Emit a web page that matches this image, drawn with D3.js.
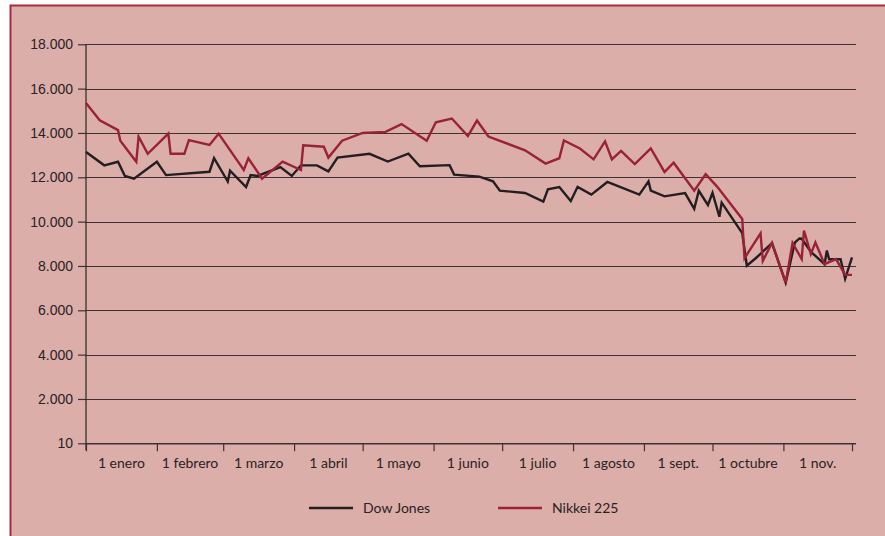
<!DOCTYPE html>
<html lang="es">
<head>
<meta charset="UTF-8">
<title>Dow Jones y Nikkei 225</title>
<script src="https://d3js.org/d3.v7.min.js"></script>
<style>
    body { margin: 0; background: #ffffff; font-family: Lato, "Open Sans", sans-serif; }
    svg { display: block; }
    .tick-label { font-size: 14px; fill: #2a2222; }
</style>
</head>
<body>
<svg id="chart" width="885" height="536"></svg>
<script>
// --- Data ---
const monthLabels = ["1 enero", "1 febrero", "1 marzo", "1 abril", "1 mayo", "1 junio",
                     "1 julio", "1 agosto", "1 sept.", "1 octubre", "1 nov."];
const yTicks = [0, 2000, 4000, 6000, 8000, 10000, 12000, 14000, 16000, 18000];
const yTickLabels = ["10", "2.000", "4.000", "6.000", "8.000", "10.000", "12.000", "14.000", "16.000", "18.000"];
const seriesNames = ["Dow Jones", "Nikkei 225"];

const dowJones = [
    ["2008-01-01", 13140], ["2008-01-09", 12540], ["2008-01-15", 12700], ["2008-01-18", 12060],
    ["2008-01-22", 11940], ["2008-02-01", 12700], ["2008-02-05", 12100], ["2008-02-24", 12250],
    ["2008-02-26", 12860], ["2008-03-03", 11810], ["2008-03-04", 12300], ["2008-03-11", 11560],
    ["2008-03-13", 12100], ["2008-03-16", 12060], ["2008-03-26", 12460], ["2008-03-31", 12060],
    ["2008-04-04", 12540], ["2008-04-11", 12540], ["2008-04-16", 12270], ["2008-04-20", 12890],
    ["2008-05-04", 13060], ["2008-05-12", 12710], ["2008-05-21", 13070], ["2008-05-26", 12500],
    ["2008-06-08", 12550], ["2008-06-10", 12120], ["2008-06-21", 12030], ["2008-06-27", 11820],
    ["2008-06-30", 11400], ["2008-07-11", 11290], ["2008-07-19", 10900], ["2008-07-21", 11460],
    ["2008-07-26", 11560], ["2008-07-31", 10930], ["2008-08-03", 11570], ["2008-08-09", 11220],
    ["2008-08-16", 11790], ["2008-08-30", 11220], ["2008-09-03", 11820], ["2008-09-04", 11400],
    ["2008-09-10", 11140], ["2008-09-19", 11290], ["2008-09-23", 10580], ["2008-09-25", 11390],
    ["2008-09-29", 10750], ["2008-10-01", 11300], ["2008-10-04", 10220], ["2008-10-05", 10860],
    ["2008-10-14", 9480], ["2008-10-16", 8010], ["2008-10-20", 8360], ["2008-10-27", 9030],
    ["2008-11-02", 7250], ["2008-11-06", 9050], ["2008-11-08", 9240], ["2008-11-09", 9230],
    ["2008-11-13", 8640], ["2008-11-19", 8080], ["2008-11-20", 8700], ["2008-11-21", 8300],
    ["2008-11-26", 8310], ["2008-11-28", 7420], ["2008-12-01", 8390]
];

const nikkei225 = [
    ["2008-01-01", 15350], ["2008-01-07", 14570], ["2008-01-15", 14130], ["2008-01-16", 13650],
    ["2008-01-23", 12700], ["2008-01-24", 13840], ["2008-01-28", 13060], ["2008-02-06", 13970],
    ["2008-02-07", 13060], ["2008-02-13", 13060], ["2008-02-15", 13680], ["2008-02-24", 13460],
    ["2008-02-28", 13970], ["2008-03-10", 12330], ["2008-03-12", 12860], ["2008-03-18", 11940],
    ["2008-03-27", 12710], ["2008-04-04", 12330], ["2008-04-05", 13440], ["2008-04-14", 13380],
    ["2008-04-16", 12890], ["2008-04-22", 13650], ["2008-05-01", 14000], ["2008-05-11", 14050],
    ["2008-05-18", 14400], ["2008-05-29", 13650], ["2008-06-02", 14480], ["2008-06-09", 14650],
    ["2008-06-16", 13860], ["2008-06-20", 14560], ["2008-06-25", 13840], ["2008-07-11", 13220],
    ["2008-07-20", 12620], ["2008-07-26", 12860], ["2008-07-28", 13660], ["2008-08-04", 13300],
    ["2008-08-10", 12810], ["2008-08-15", 13620], ["2008-08-18", 12810], ["2008-08-22", 13190],
    ["2008-08-28", 12600], ["2008-09-04", 13300], ["2008-09-10", 12240], ["2008-09-14", 12660],
    ["2008-09-23", 11400], ["2008-09-28", 12140], ["2008-10-03", 11580], ["2008-10-14", 10120],
    ["2008-10-15", 8350], ["2008-10-22", 9470], ["2008-10-23", 8230], ["2008-10-27", 9040],
    ["2008-11-02", 7250], ["2008-11-05", 9040], ["2008-11-09", 8310], ["2008-11-10", 9600],
    ["2008-11-13", 8540], ["2008-11-15", 9060], ["2008-11-19", 8080], ["2008-11-24", 8310],
    ["2008-11-28", 7600], ["2008-12-01", 7600]
];

// --- Setup ---
const svg = d3.select("#chart");
const parse = d3.timeParse("%Y-%m-%d");
const colors = { dow: "#231e1f", nikkei: "#9a2236" };

const plotLeft = 86, plotRight = 852, gridRight = 856;
const plotTop = 44.3, plotBottom = 443.3;

const x = d3.scaleTime()
    .domain([parse("2008-01-01"), parse("2008-12-01")])
    .range([plotLeft, plotRight]);
const y = d3.scaleLinear().domain([0, 18000]).range([plotBottom, plotTop]);

const monthStarts = d3.timeMonth.range(parse("2008-01-01"), parse("2008-12-02"));

// background panel with red frame
svg.append("rect")
    .attr("x", 10.5).attr("y", 5.5)
    .attr("width", 900).attr("height", 560)
    .attr("fill", "#dcaeaa")
    .attr("stroke", "#a82b3e").attr("stroke-width", 2);

// horizontal gridlines
svg.append("g")
    .selectAll("line")
    .data(yTicks)
    .join("line")
    .attr("x1", plotLeft).attr("x2", gridRight)
    .attr("y1", d => Math.round(y(d)) + 0.5)
    .attr("y2", d => Math.round(y(d)) + 0.5)
    .attr("stroke", "#3e3232")
    .attr("stroke-width", 1.2);

// y axis
const yAxis = d3.axisLeft(y)
    .tickValues(yTicks)
    .tickFormat((d, i) => yTickLabels[i])
    .tickSize(8)
    .tickPadding(5);
const gy = svg.append("g")
    .attr("transform", `translate(${plotLeft},0)`)
    .call(yAxis);
gy.select(".domain").remove();
gy.selectAll(".tick line").attr("stroke", "#3e3232").attr("stroke-width", 1.2);
gy.selectAll(".tick text").attr("class", "tick-label").attr("font-family", null).attr("font-size", null);

svg.append("line")
    .attr("x1", plotLeft).attr("x2", plotLeft)
    .attr("y1", plotTop).attr("y2", plotBottom + 7)
    .attr("stroke", "#2a2222").attr("stroke-width", 1.2);

// x axis: tick marks at month starts, labels mid-month
const xAxis = d3.axisBottom(x)
    .tickValues(monthStarts)
    .tickFormat("")
    .tickSize(8)
    .tickSizeOuter(0);
const gx = svg.append("g")
    .attr("transform", `translate(0,${plotBottom})`)
    .call(xAxis);
gx.select(".domain").attr("d", `M${plotLeft},0.5H${gridRight}`).attr("stroke", "#3e3232").attr("stroke-width", 1.2);
gx.selectAll(".tick line").attr("stroke", "#3e3232").attr("stroke-width", 1.2);

svg.append("g")
    .selectAll("text")
    .data(monthLabels)
    .join("text")
    .attr("class", "tick-label")
    .attr("x", (d, i) => (x(monthStarts[i]) + x(monthStarts[i + 1])) / 2)
    .attr("y", plotBottom + 25)
    .attr("text-anchor", "middle")
    .text(d => d);

// --- Lines ---
const line = d3.line()
    .x(d => x(parse(d[0])))
    .y(d => y(d[1]));

svg.append("path")
    .datum(dowJones)
    .attr("d", line)
    .attr("fill", "none")
    .attr("stroke", colors.dow)
    .attr("stroke-width", 2.4);

svg.append("path")
    .datum(nikkei225)
    .attr("d", line)
    .attr("fill", "none")
    .attr("stroke", colors.nikkei)
    .attr("stroke-width", 2.4);

// --- Legend ---
const legend = svg.append("g");
const legendItems = [
    { name: seriesNames[0], color: colors.dow, x: 309 },
    { name: seriesNames[1], color: colors.nikkei, x: 498 }
];
legendItems.forEach(item => {
    legend.append("line")
        .attr("x1", item.x).attr("x2", item.x + 44)
        .attr("y1", 508).attr("y2", 508)
        .attr("stroke", item.color).attr("stroke-width", 2.4);
    legend.append("text")
        .attr("class", "tick-label")
        .attr("x", item.x + 54).attr("y", 513)
        .text(item.name);
});
</script>
</body>
</html>
